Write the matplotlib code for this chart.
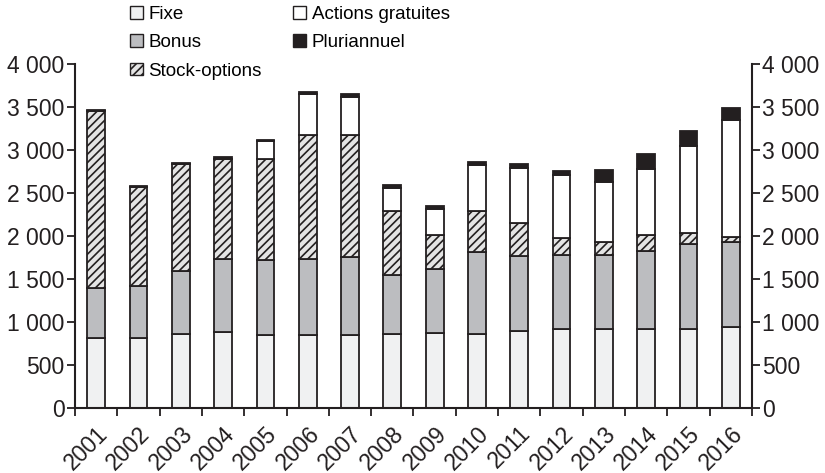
import numpy as np
import matplotlib
matplotlib.use('Agg')
import matplotlib.pyplot as plt
from matplotlib.patches import Patch

plt.rcParams['font.family'] = ['Liberation Sans', 'DejaVu Sans']
plt.rcParams['hatch.linewidth'] = 1.2
plt.rcParams['hatch.color'] = '#231f20'

years = ['2001', '2002', '2003', '2004', '2005', '2006', '2007', '2008',
         '2009', '2010', '2011', '2012', '2013', '2014', '2015', '2016']
fixe = [816, 816, 859, 886, 851, 851, 848, 859, 868, 859, 898, 914, 914, 914, 921, 937]
bonus = [574, 604, 729, 845, 864, 880, 910, 686, 746, 953, 867, 863, 863, 909, 980, 988]
stock_options = [2059, 1150, 1242, 1157, 1181, 1444, 1409, 747, 395, 480, 380, 201, 147, 186, 132, 57]
actions_gratuites = [0, 0, 0, 0, 205, 475, 449, 267, 306, 530, 639, 728, 701, 763, 1010, 1359]
pluriannuel = [10, 10, 10, 27, 12, 24, 35, 31, 35, 35, 46, 47, 135, 174, 174, 147]

yticks = [0, 500, 1000, 1500, 2000, 2500, 3000, 3500, 4000]
ytick_labels = ['0', '500', '1 000', '1 500', '2 000', '2 500', '3 000', '3 500', '4 000']

edge = '#231f20'
series = [
    ('Fixe', fixe, dict(color='#f0f1f2')),
    ('Bonus', bonus, dict(color='#bcbdc0')),
    ('Stock-options', stock_options, dict(color='#e4e4e4', hatch='////')),
    ('Actions gratuites', actions_gratuites, dict(color='#ffffff')),
    ('Pluriannuel', pluriannuel, dict(color='#231f20')),
]

fig = plt.figure(figsize=(8.25, 4.73), dpi=100)
ax = fig.add_axes([0.0909, 0.1374, 0.8206, 0.7281])

x = np.arange(len(years))
bottom = np.zeros(len(years))
handles = []
for name, vals, style in series:
    vals = np.array(vals, dtype=float)
    ax.bar(x, vals, width=0.42, bottom=bottom, edgecolor=edge, linewidth=1.3,
           zorder=2, **style)
    bottom += vals
    handles.append(Patch(facecolor=style['color'], hatch=style.get('hatch'),
                         edgecolor=edge, linewidth=1.0, label=name))

ax.set_xlim(-0.5, len(years) - 0.5)
ax.set_ylim(0, 4000)
ax.set_yticks(yticks)
ax.set_yticklabels(ytick_labels)
ax.tick_params(axis='y', direction='out', length=6, width=1.3, labelsize=16.5,
               right=True, labelright=True, pad=1.5, colors='#231f20')

ax.set_xticks(x)
ax.set_xticklabels(years, rotation=45, ha='right', va='top',
                   rotation_mode='anchor', fontsize=16.5)
ax.tick_params(axis='x', which='major', length=0, pad=10, colors='#231f20')
ax.set_xticks(np.arange(-0.5, len(years)), minor=True)
ax.tick_params(axis='x', which='minor', direction='out', length=6, width=1.3,
               colors='#231f20')

for side in ['left', 'right', 'bottom']:
    ax.spines[side].set_linewidth(1.5)
    ax.spines[side].set_color('#231f20')
ax.spines['top'].set_visible(False)

fig.legend(handles=handles, ncol=2, loc='upper left',
           bbox_to_anchor=(130 / 825, 1 - 6 / 473), frameon=False,
           fontsize=13.5, handlelength=0.67, handleheight=0.67,
           handletextpad=0.3, labelspacing=0.6, columnspacing=1.7,
           borderpad=0, borderaxespad=0)

fig.savefig('out.png', dpi=100)
